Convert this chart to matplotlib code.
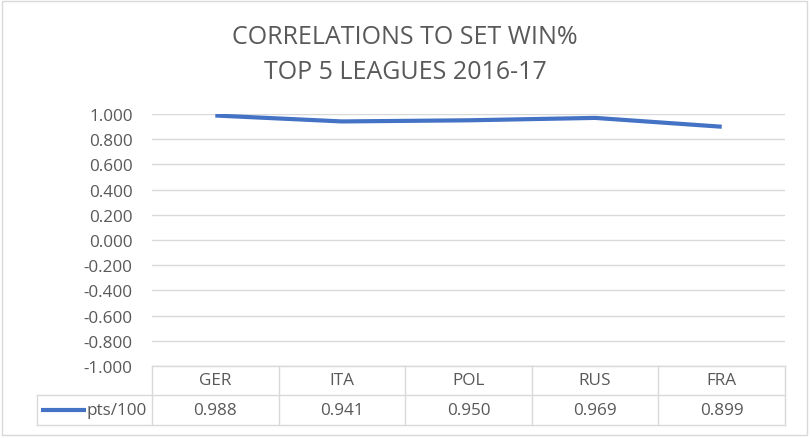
import matplotlib
matplotlib.use("Agg")
from matplotlib import pyplot as plt
from matplotlib.patches import Rectangle

leagues = ["GER", "ITA", "POL", "RUS", "FRA"]
pts_100 = [0.988, 0.941, 0.950, 0.969, 0.899]
series_name = "pts/100"
yticks = [1.0, 0.8, 0.6, 0.4, 0.2, 0.0, -0.2, -0.4, -0.6, -0.8, -1.0]

W, H = 810, 439
blue = "#4472C4"
grey_txt = "#595959"
grid_c = "#D9D9D9"
fs = 12.3
plt.rcParams['font.family'] = ['Open Sans', 'DejaVu Sans']

fig = plt.figure(figsize=(W / 100, H / 100), dpi=100)

# pixel-space overlay for frame + data table
pix = fig.add_axes([0, 0, 1, 1])
pix.set_xlim(0, W)
pix.set_ylim(H, 0)
pix.axis("off")
pix.add_patch(Rectangle((2, 2), W - 5, H - 5, fill=False, ec=grid_c, lw=1))

x0, x1 = 152, 785
y_top, y_bot = 115, 367
ax = fig.add_axes([x0 / W, 1 - y_bot / H, (x1 - x0) / W, (y_bot - y_top) / H])
ax.set_xlim(-0.5, len(leagues) - 0.5)
ax.set_ylim(-1, 1)
ax.set_yticks(yticks)
ax.set_yticklabels(["%.3f" % v for v in yticks])
ax.set_xticks([])
for s in ax.spines.values():
    s.set_visible(False)
ax.grid(axis="y", color=grid_c, lw=1)
ax.tick_params(axis="y", length=0, pad=14, labelsize=fs, labelcolor=grey_txt)
ax.set_axisbelow(True)
ax.plot(range(len(leagues)), pts_100, color=blue, lw=3, solid_capstyle="butt")
ax.patch.set_alpha(0)

# title
fig.text(0.5, 1 - 55 / H, "CORRELATIONS TO SET WIN%\nTOP 5 LEAGUES 2016-17",
         ha="center", va="center", fontsize=18, color=grey_txt, linespacing=1.5)

# data table
r0, r1, r2 = 367, 396, 426
lx = 37
cw = (x1 - x0) / len(leagues)
pix.plot([x0, x1], [r0, r0], color=grid_c, lw=1)
pix.plot([lx, x1], [r1, r1], color=grid_c, lw=1)
pix.plot([lx, x1], [r2, r2], color=grid_c, lw=1)
pix.plot([lx, lx], [r1, r2], color=grid_c, lw=1)
for i in range(len(leagues) + 1):
    xx = x0 + i * cw
    pix.plot([xx, xx], [r0, r2], color=grid_c, lw=1)
for i, (lg, v) in enumerate(zip(leagues, pts_100)):
    cx = x0 + (i + 0.5) * cw
    pix.text(cx, (r0 + r1) / 2, lg, ha="center", va="center", fontsize=fs, color=grey_txt)
    pix.text(cx, (r1 + r2) / 2, "%.3f" % v, ha="center", va="center", fontsize=fs, color=grey_txt)
pix.plot([41, 86], [(r1 + r2) / 2, (r1 + r2) / 2], color=blue, lw=3, solid_capstyle="butt")
pix.text(87, (r1 + r2) / 2, series_name, ha="left", va="center", fontsize=fs, color=grey_txt)

fig.savefig("out.png", dpi=100)
